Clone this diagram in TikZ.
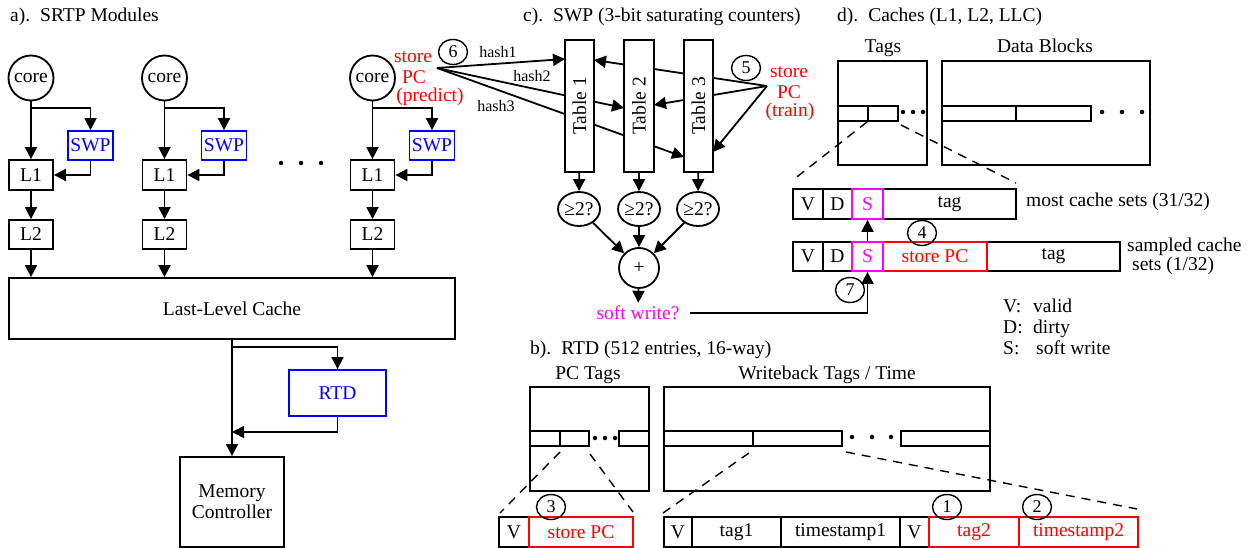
\documentclass[tikz,border=0pt]{standalone}
\usepackage{fontspec}
\setmainfont{Liberation Serif}
\usetikzlibrary{shapes.geometric,arrows.meta,backgrounds}
\definecolor{mag}{RGB}{255,0,255}
\definecolor{rd}{RGB}{255,0,0}
\definecolor{bl}{RGB}{0,0,255}
\begin{document}
\begin{tikzpicture}[x=1pt,y=-1pt,
  font=\fontsize{19.5}{21}\selectfont,
  lw/.style={line width=1.8pt},
  box/.style={draw,lw,inner sep=0pt,fill=white},
  arr/.style={lw,-{Triangle[length=12pt,width=12pt]}},
  num/.style={draw,ellipse,line width=1.4pt,minimum width=29pt,minimum height=25pt,inner sep=0pt,font=\fontsize{18}{20}\selectfont},
  dsh/.style={line width=1.4pt,dash pattern=on 9pt off 7pt},
  dotc/.style={fill,circle,inner sep=0pt,minimum size=4.5pt},
  txt/.style={inner sep=0pt},
  hashlbl/.style={inner sep=0pt,font=\fontsize{16}{18}\selectfont},
  cmp/.style={draw,ellipse,lw,minimum width=42pt,minimum height=34pt,inner sep=0pt},
]
\useasboundingbox (0,0) rectangle (1252,548);

% ---------------- a) SRTP Modules ----------------
\node[txt,anchor=base west] (ta) at (10,22) {a).\hspace{10pt}SRTP Modules};
\node[box,minimum width=446pt,minimum height=61pt] (llc) at (232,308.5) {Last-Level Cache};
\foreach \i/\cx/\sx in {1/31/90.5, 2/164.5/224, 3/372.5/432} {
  \node[draw,circle,lw,minimum size=45pt,inner sep=0pt] (core\i) at (\cx,78) {core};
  \node[box,minimum width=44pt,minimum height=30pt] (La\i) at (\cx,175) {L1};
  \node[box,minimum width=44pt,minimum height=29pt] (Lb\i) at (\cx,234.5) {L2};
  \node[box,draw=bl,text=bl,minimum width=45pt,minimum height=29pt] (swp\i) at (\sx,145.5) {SWP};
  \coordinate (br\i) at (\cx,108);
  \draw[arr] (core\i) -- (La\i);
  \draw[arr] (br\i) -| (swp\i);
  \draw[arr] (swp\i.south) |- (La\i);
  \draw[arr] (La\i) -- (Lb\i);
  \draw[arr] (Lb\i) -- (Lb\i |- llc.north);
}
\foreach \x in {281,301,321} \node[dotc] at (\x,163) {};
\node[box,minimum width=104pt,minimum height=90pt,align=center] (mc) at (232,502) {Memory\\Controller};
\node[box,draw=bl,text=bl,minimum width=97pt,minimum height=46pt] (rtd) at (337.5,393) {RTD};
\coordinate (b4) at (232,347);
\coordinate (j4) at (232,432);
\draw[arr] (llc) -- (mc);
\draw[arr] (b4) -| (rtd);
\draw[arr] (rtd.south) |- (j4);

% ---------------- c) SWP ----------------
\node[txt,anchor=base west] (tc) at (523,22) {c).\hspace{10pt}SWP (3-bit saturating counters)};
\node[box,minimum width=29pt,minimum height=132pt] (t1) at (579.5,106) {\rotatebox{90}{Table 1}};
\node[box,minimum width=30pt,minimum height=132pt] (t2) at (639,106) {\rotatebox{90}{Table 2}};
\node[box,minimum width=29pt,minimum height=132pt] (t3) at (698.5,106) {\rotatebox{90}{Table 3}};
\coordinate (hp) at (437,68);
\coordinate (h1) at (565,59);
\coordinate (h2) at (624,108);
\coordinate (h3) at (684,157);
\coordinate (tp) at (767,86);
\coordinate (r1) at (594,60);
\coordinate (r2) at (654,105);
\coordinate (r3) at (713,152);
\begin{scope}[on background layer]
  \draw[arr] (hp) -- (h1);
  \draw[arr] (hp) -- (h2);
  \draw[arr] (hp) -- (h3);
  \draw[arr] (tp) -- (r1);
  \draw[arr] (tp) -- (r2);
  \draw[arr] (tp) -- (r3);
\end{scope}
\node[hashlbl] at (498,52) {hash1};
\node[hashlbl] at (532,76) {hash2};
\node[hashlbl] at (496,106) {hash3};
\node[num] (n6) at (453,52) {6};
\node[num] (n5) at (746,68) {5};
\node[txt,text=rd] at (413,57) {store};
\node[txt,text=rd] at (414,77) {PC};
\node[txt,text=rd] at (430,97) {(predict)};
\node[txt,text=rd] at (789,72) {store};
\node[txt,text=rd] at (789,92) {PC};
\node[txt,text=rd] at (790,112) {(train)};
\node[cmp] (e1) at (579,209) {≥2?};
\node[cmp] (e2) at (639,209) {≥2?};
\node[cmp] (e3) at (698,209) {≥2?};
\node[draw,circle,lw,minimum size=40pt,inner sep=0pt] (plus) at (639,268) {+};
\node[inner xsep=10pt,inner ysep=3pt,text=mag] (sw) at (638,313) {soft write?};
\draw[arr] (t1) -- (e1);
\draw[arr] (t2) -- (e2);
\draw[arr] (t3) -- (e3);
\draw[arr] (e1) -- (plus);
\draw[arr] (e2) -- (plus);
\draw[arr] (e3) -- (plus);
\draw[arr] (plus) -- (sw);

% ---------------- d) Caches ----------------
\node[txt,anchor=base west] (td) at (837,22) {d).\hspace{10pt}Caches (L1, L2, LLC)};
\node[txt,anchor=base] at (883,53) {Tags};
\node[txt,anchor=base] at (1045,53) {Data Blocks};
\node[box,minimum width=89pt,minimum height=104pt] (tgb) at (882.5,113) {};
\node[box,minimum width=208pt,minimum height=104pt] (dtb) at (1046,113) {};
\node[box,minimum width=30pt,minimum height=15pt] (tc1) at (853,113.5) {};
\node[box,minimum width=30pt,minimum height=15pt] (tc2) at (883,113.5) {};
\foreach \x in {903,913,923} \node[dotc] at (\x,112) {};
\node[box,minimum width=74pt,minimum height=15pt] (dc1) at (979,113.5) {};
\node[box,minimum width=75pt,minimum height=15pt] (dc2) at (1053.5,113.5) {};
\foreach \x in {1102,1122,1142} \node[dotc] at (\x,112) {};
\coordinate (dz0) at (901,125);
\coordinate (dz1) at (793,180);
\coordinate (dz2) at (1016,183);
\draw[dsh] (tc2.south west) -- (dz1);
\draw[dsh] (dz0) -- (dz2);
% row 1
\node[box,minimum width=30pt,minimum height=30pt] (V1) at (808,204) {V};
\node[box,minimum width=29pt,minimum height=30pt] (D1) at (837.5,204) {D};
\node[box,minimum width=133pt,minimum height=30pt] (G1) at (949.5,204) {tag};
\node[box,draw=mag,text=mag,minimum width=31pt,minimum height=30pt] (S1) at (867.5,204) {S};
% row 2
\node[box,minimum width=30pt,minimum height=29pt] (V2) at (808,256.5) {V};
\node[box,minimum width=29pt,minimum height=29pt] (D2) at (837.5,256.5) {D};
\node[box,minimum width=133pt,minimum height=29pt] (G2) at (1053.5,256.5) {tag};
\node[box,draw=rd,text=rd,minimum width=104pt,minimum height=29pt] (P2) at (935,256.5) {store PC};
\node[box,draw=mag,text=mag,minimum width=31pt,minimum height=29pt] (S2) at (867.5,256.5) {S};
\draw[arr] (S2) -- (S1);
\draw[arr] (sw.east) -| (S2);
\node[num] (n4) at (922,233) {4};
\node[num] (n7) at (850,290) {7};
\node[txt,anchor=base west] at (1026,206) {most cache sets (31/32)};
\node[txt,anchor=base west] at (1127,251) {sampled cache};
\node[txt,anchor=base west] at (1132,270) {sets (1/32)};
\node[txt,anchor=base west] at (1003,312) {V:};
\node[txt,anchor=base west] at (1033,312) {valid};
\node[txt,anchor=base west] at (1003,333) {D:};
\node[txt,anchor=base west] at (1033,333) {dirty};
\node[txt,anchor=base west] at (1003,354) {S:};
\node[txt,anchor=base west] at (1036,354) {soft write};

% ---------------- b) RTD ----------------
\node[txt,anchor=base west] (tb) at (530,354) {b).\hspace{10pt}RTD (512 entries, 16-way)};
\node[txt,anchor=base] at (588,379) {PC Tags};
\node[txt,anchor=base] at (827,379) {Writeback Tags / Time};
\node[box,minimum width=119pt,minimum height=104pt] (pcb) at (589.5,439) {};
\node[box,minimum width=30pt,minimum height=15pt] (pc1) at (545,438.5) {};
\node[box,minimum width=29pt,minimum height=15pt] (pc2) at (574.5,438.5) {};
\node[box,minimum width=30pt,minimum height=15pt] (pc3) at (634,438.5) {};
\foreach \x in {595,605,615} \node[dotc] at (\x,438) {};
\node[box,minimum width=326pt,minimum height=104pt] (wbb) at (827,439) {};
\node[box,minimum width=89pt,minimum height=15pt] (wb1) at (708.5,438.5) {};
\node[box,minimum width=89pt,minimum height=15pt] (wb2) at (797.5,438.5) {};
\node[box,minimum width=89pt,minimum height=15pt] (wb3) at (945.5,438.5) {};
\foreach \x in {852,872,891} \node[dotc] at (\x,437) {};
\coordinate (pa0) at (560,452);
\coordinate (pa1) at (500,513);
\coordinate (pb0) at (590,454);
\coordinate (pb1) at (633,512);
\coordinate (wa0) at (749,453);
\coordinate (wa1) at (663,513);
\coordinate (wc0) at (846,452);
\coordinate (wc1) at (1137,509);
\draw[dsh] (pa0) -- (pa1);
\draw[dsh] (pb0) -- (pb1);
\draw[dsh] (wa0) -- (wa1);
\draw[dsh] (wc0) -- (wc1);
\node[box,minimum width=30pt,minimum height=30pt] (bv0) at (514,532) {V};
\node[box,draw=rd,text=rd,minimum width=104pt,minimum height=30pt] (bpc) at (581,532) {store PC};
\node[box,minimum width=28pt,minimum height=30pt] (bv1) at (678,532) {V};
\node[box,minimum width=89pt,minimum height=30pt] (btg1) at (736.5,532) {tag1};
\node[box,minimum width=119pt,minimum height=30pt] (bts1) at (840.5,532) {timestamp1};
\node[box,minimum width=29pt,minimum height=30pt] (bv2) at (914.5,532) {V};
\node[box,draw=rd,text=rd,minimum width=90pt,minimum height=30pt] (btg2) at (974,532) {tag2};
\node[box,draw=rd,text=rd,minimum width=119pt,minimum height=30pt] (bts2) at (1078.5,532) {timestamp2};
\node[num] (n3) at (551,507) {3};
\node[num] (n1) at (947,507) {1};
\node[num] (n2) at (1037,507) {2};
\end{tikzpicture}
\end{document}
